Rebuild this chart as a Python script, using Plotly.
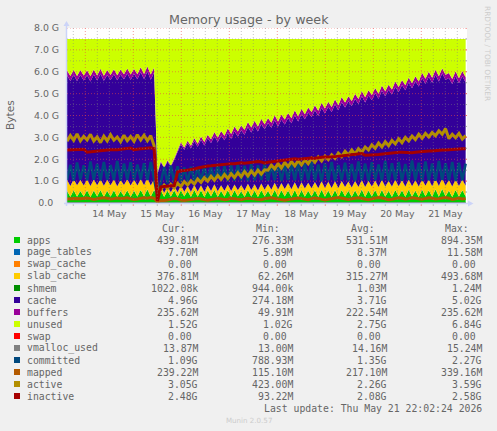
import pandas as pd
import plotly.graph_objects as go

# --- data (GiB) ---
apps = [.55,.28,.58,.29,.54,.30,.57,.27,.56,.30,
        .59,.28,.55,.29,.57,.27,.54,.31,.58,.28,
        .56,.29,.59,.30,.62,.29,.60,.30,.58,.28,
        .56,.29,.57,.28,.58,.30,.55,.28,.59,.29,
        .57,.27,.56,.30,.60,.28,.55,.29,.58,.28,
        .57,.30,.54,.28,.59,.29,.56,.27,.58,.30,
        .55,.29,.60,.28,.57,.30,.56,.28,.59,.27,
        .58,.29,.55,.30,.57,.28,.60,.29,.56,.28,
        .58,.27,.59,.30,.55,.28,.57,.29,.61,.28,
        .56,.30,.58,.27,.60,.29,.55,.28,.59,.30,
        .57,.28,.60,.29,.56,.27,.61,.30,.58,.28,
        .62,.29,.64,.30,.56,.27,.59,.29,.58,.30]
slab_cache = [.50,.49,.50,.51,.50,.49,.50,.50,.51,.50,
              .49,.50,.50,.51,.50,.49,.50,.50,.50,.51,
              .50,.50,.49,.50,.51,.50,.49,.10,.18,.18,
              .19,.19,.20,.20,.21,.21,.22,.22,.22,.23,
              .23,.24,.24,.24,.25,.25,.25,.26,.26,.26,
              .27,.27,.27,.28,.28,.29,.29,.29,.30,.30,
              .31,.31,.32,.32,.33,.33,.34,.34,.35,.35,
              .36,.36,.37,.37,.38,.38,.39,.39,.40,.40,
              .40,.41,.41,.42,.42,.42,.43,.43,.43,.44,
              .44,.44,.44,.45,.45,.45,.45,.46,.46,.46,
              .46,.46,.47,.47,.47,.47,.47,.48,.48,.48,
              .48,.48,.48,.48,.48,.48,.48,.48,.48,.48]
cache = [4.78,4.80,4.77,4.77,4.80,4.80,4.76,4.78,4.79,4.79,
         4.82,4.80,4.79,4.81,4.81,4.84,4.82,4.84,4.83,4.84,
         4.84,4.86,4.89,4.86,4.87,4.84,4.87,.89,1.09,1.12,
         1.14,1.17,1.19,1.87,1.89,1.92,1.96,1.99,2.02,2.04,
         2.08,2.11,2.15,2.19,2.21,2.25,2.28,2.31,2.36,2.39,
         2.43,2.46,2.51,2.55,2.59,2.63,2.67,2.70,2.73,2.76,
         2.79,2.83,2.85,2.89,2.91,2.95,2.98,3.02,3.06,3.10,
         3.13,3.17,3.21,3.25,3.28,3.32,3.35,3.40,3.43,3.47,
         3.52,3.55,3.60,3.63,3.67,3.72,3.75,3.79,3.84,3.87,
         3.91,3.96,4.00,4.04,4.08,4.13,4.17,4.21,4.26,4.30,
         4.35,4.40,4.43,4.48,4.53,4.58,4.63,4.66,4.70,4.73,
         4.75,4.78,4.80,4.84,4.66,4.68,4.71,4.69,4.73,4.73]
buffers = [.23,.23,.23,.23,.23,.23,.23,.23,.23,.23,
           .23,.23,.23,.23,.23,.23,.23,.23,.23,.23,
           .23,.23,.23,.23,.23,.23,.23,.10,.05,.05,
           .06,.06,.07,.08,.09,.10,.11,.12,.13,.14,
           .15,.16,.16,.17,.18,.19,.20,.21,.21,.22,
           .22,.23,.23,.23,.23,.23,.23,.23,.23,.23,
           .23,.23,.23,.23,.23,.23,.23,.23,.23,.23,
           .23,.23,.23,.23,.23,.23,.23,.23,.23,.23,
           .23,.23,.23,.23,.23,.23,.23,.23,.23,.23,
           .23,.23,.23,.23,.23,.23,.23,.23,.23,.23,
           .23,.23,.23,.23,.23,.23,.23,.23,.23,.23,
           .23,.23,.23,.23,.23,.23,.23,.23,.23,.23]
unused = [1.43,1.69,1.41,1.69,1.42,1.67,1.43,1.71,1.40,1.67,
          1.36,1.68,1.42,1.65,1.38,1.66,1.40,1.61,1.35,1.63,
          1.36,1.61,1.29,1.60,1.26,1.63,1.30,6.10,5.59,5.86,
          5.54,5.78,5.46,5.06,4.72,4.96,4.65,4.88,4.53,4.79,
          4.46,4.71,4.38,4.59,4.25,4.52,4.21,4.42,4.08,4.34,
          4.00,4.23,3.94,4.15,3.80,4.05,3.74,4.00,3.65,3.90,
          3.61,3.83,3.49,3.77,3.45,3.68,3.38,3.62,3.26,3.54,
          3.19,3.44,3.13,3.34,3.03,3.28,2.92,3.18,2.87,3.11,
          2.76,3.03,2.66,2.91,2.62,2.84,2.51,2.75,2.38,2.67,
          2.35,2.56,2.24,2.50,2.13,2.39,2.09,2.31,1.95,2.20,
          1.88,2.12,1.76,2.02,1.70,1.94,1.55,1.82,1.50,1.77,
          1.41,1.71,1.34,1.64,1.56,1.83,1.48,1.80,1.47,1.75]
committed = [1.05,1.75,1.02,1.85,1.08,1.72,1.04,1.90,1.06,1.78,
             1.03,1.88,1.07,1.74,1.05,1.92,1.02,1.80,1.06,1.86,
             1.04,1.76,1.08,1.82,1.05,1.88,1.10,.30,.95,1.65,
             .90,1.72,.92,1.68,.95,1.62,.98,1.66,1.00,1.64,
             .98,1.70,1.02,1.66,1.00,1.74,1.03,1.68,1.00,1.72,
             1.02,1.76,1.04,1.70,1.00,1.78,1.03,1.72,1.05,1.80,
             1.02,1.74,1.04,1.82,1.00,1.76,1.05,1.80,1.03,1.84,
             1.02,1.78,1.05,1.86,1.03,1.76,1.00,1.82,1.04,1.88,
             1.02,1.74,1.05,1.84,1.03,1.78,1.00,1.90,1.04,1.80,
             1.02,1.86,1.05,1.76,1.03,1.92,1.00,1.82,1.04,1.88,
             1.02,1.78,1.05,1.94,1.03,1.84,1.00,1.90,1.04,1.80,
             1.02,1.92,1.05,1.82,1.03,1.88,1.00,1.84,1.04,1.80]
mapped = [.18,.20,.22,.21,.19,.21,.23,.20,.16,.19,
          .21,.24,.22,.18,.20,.23,.20,.22,.24,.19,
          .16,.18,.21,.24,.22,.25,.22,.06,.12,.11,
          .14,.18,.20,.19,.13,.11,.14,.17,.19,.20,
          .18,.15,.13,.16,.19,.21,.18,.15,.17,.21,
          .20,.18,.15,.19,.22,.20,.18,.17,.15,.19,
          .22,.24,.21,.18,.14,.13,.16,.18,.22,.23,
          .20,.17,.15,.20,.23,.21,.18,.14,.17,.19,
          .22,.25,.22,.18,.16,.19,.23,.24,.21,.17,
          .15,.19,.22,.25,.23,.18,.15,.17,.21,.24,
          .22,.18,.20,.24,.22,.19,.17,.21,.24,.22,
          .18,.20,.23,.25,.22,.16,.19,.23,.18,.20]
active = [2.82,3.08,2.86,3.16,2.84,3.05,2.88,3.14,2.83,3.02,
          2.76,3.06,2.84,3.12,2.87,3.02,2.80,3.10,2.85,3.04,
          2.82,3.12,2.88,3.10,2.85,3.08,2.62,.48,.62,.82,
          .66,.86,.70,.90,.76,.98,.82,1.02,.86,1.10,
          .94,1.16,1.00,1.22,1.04,1.26,1.08,1.30,1.12,1.34,
          1.16,1.38,1.20,1.44,1.24,1.46,1.28,1.50,1.32,1.52,
          1.50,1.74,1.56,1.80,1.60,1.86,1.66,1.90,1.70,1.94,
          1.74,1.98,1.80,2.04,1.86,2.10,1.92,2.14,1.98,2.20,
          2.04,2.28,2.12,2.36,2.18,2.42,2.24,2.48,2.32,2.56,
          2.42,2.66,2.50,2.74,2.56,2.80,2.62,2.86,2.70,2.94,
          2.76,3.00,2.84,3.06,2.90,3.14,2.96,3.18,3.02,3.22,
          3.08,3.30,3.14,3.40,2.94,3.14,2.98,3.18,2.92,3.08]
inactive = [2.42,2.43,2.44,2.45,2.46,2.46,2.32,2.34,2.37,2.38,
            2.40,2.41,2.42,2.43,2.42,2.44,2.46,2.48,2.50,2.51,
            2.44,2.47,2.48,2.49,2.50,2.52,2.48,.10,.74,.75,
            .77,.79,.80,1.42,1.47,1.48,1.50,1.52,1.55,1.60,
            1.64,1.68,1.69,1.70,1.72,1.72,1.73,1.76,1.77,1.80,
            1.80,1.82,1.84,1.82,1.84,1.86,1.90,1.90,1.88,1.82,
            1.86,1.88,1.90,1.92,1.94,1.96,1.98,2.00,2.02,2.00,
            2.02,2.04,2.06,2.06,2.05,2.08,2.09,2.10,2.09,2.11,
            2.12,2.14,2.16,2.18,2.20,2.22,2.24,2.24,2.26,2.18,
            2.18,2.19,2.21,2.22,2.24,2.25,2.26,2.28,2.30,2.32,
            2.32,2.31,2.29,2.30,2.32,2.34,2.35,2.36,2.38,2.38,
            2.40,2.40,2.42,2.42,2.44,2.44,2.46,2.47,2.48,2.48]
# thin series, sampled sparsely
page_tables = [.0079,.0084,.0076,.0082,.0086,.0090,.0081,.0077]
swap_cache = [0, 0, 0, 0, 0, 0, 0, 0]
shmem = [.0010, .0011, .0009, .0010, .0011, .0012, .0010, .0010]
swap = [0, 0, 0, 0, 0, 0, 0, 0]
vmalloc_used = [.0140, .0142, .0136, .0141, .0145, .0148, .0142, .0139]

names = ["apps","page_tables","swap_cache","slab_cache","shmem","cache","buffers","unused",
         "swap","vmalloc_used","committed","mapped","active","inactive"]
colors = ["#00CC00","#0066B3","#FF8000","#FFCC00","#008F00","#330099","#990099","#CCFF00",
          "#FF0000","#808080","#00487D","#B35A00","#B38F00","#A60000"]
cur = ["439.81M","7.70M","0.00\u00a0","376.81M","1022.08k","4.96G","235.62M","1.52G",
       "0.00\u00a0","13.87M","1.09G","239.22M","3.05G","2.48G"]
mins = ["276.33M","5.89M","0.00\u00a0","62.26M","944.00k","274.18M","49.91M","1.02G",
        "0.00\u00a0","13.00M","788.93M","115.10M","423.00M","93.22M"]
avgs = ["531.51M","8.37M","0.00\u00a0","315.27M","1.03M","3.71G","222.54M","2.75G",
        "0.00\u00a0","14.16M","1.35G","217.10M","2.26G","2.08G"]
maxs = ["894.35M","11.58M","0.00\u00a0","493.68M","1.24M","5.02G","235.62M","6.84G",
        "0.00\u00a0","15.24M","2.27G","339.16M","3.59G","2.58G"]
ytick_vals = [0, 1, 2, 3, 4, 5, 6, 7, 8]
ytick_text = ["0.0\u00a0\u00a0", "1.0 G", "2.0 G", "3.0 G", "4.0 G", "5.0 G", "6.0 G", "7.0 G", "8.0 G"]
day_labels = ["14 May", "15 May", "16 May", "17 May", "18 May", "19 May", "20 May", "21 May"]

# --- layout constants (pixels in the 497x431 picture) ---
W, H = 497, 431
L, R, T, B = 67, 467, 28, 203
TEXT = "#666666"
MONO = "DejaVu Sans Mono"
SANS = "DejaVu Sans"


def px(x):
    return (x - L) / (R - L)


def py(y):
    return (B - y) / (B - T)


start = pd.Timestamp("2026-05-13 14:51")
end = start + pd.Timedelta(minutes=12000)
times = pd.date_range(start, periods=len(apps), freq="6030s")
sparse = times[::17]

fig = go.Figure()


def area(name, y, color, x=times):
    fig.add_trace(go.Scatter(x=list(x), y=y, name=name, mode="lines", stackgroup="mem",
                             stackgaps="interpolate", line=dict(width=0, color=color),
                             fillcolor=color, showlegend=False, hoverinfo="skip"))


def line(name, y, color, x=times, width=3):
    fig.add_trace(go.Scatter(x=list(x), y=y, name=name, mode="lines",
                             line=dict(width=width, color=color),
                             showlegend=False, hoverinfo="skip"))


c = dict(zip(names, colors))
area("apps", apps, c["apps"])
area("page_tables", page_tables, c["page_tables"], sparse)
area("swap_cache", swap_cache, c["swap_cache"], sparse)
area("slab_cache", slab_cache, c["slab_cache"])
area("shmem", shmem, c["shmem"], sparse)
area("cache", cache, c["cache"])
area("buffers", buffers, c["buffers"])
area("unused", unused, c["unused"])
area("swap", swap, c["swap"], sparse)
line("vmalloc_used", vmalloc_used, c["vmalloc_used"], sparse, 1)
line("committed", committed, c["committed"], width=2.6)
line("mapped", mapped, c["mapped"])
line("active", active, c["active"])
line("inactive", inactive, c["inactive"])

shapes = []
GRID = "rgba(128,128,128,0.45)"
MGRID = "rgba(235,70,70,0.55)"
# vertical grid: every 6 h, stronger at midnight
for t in pd.date_range("2026-05-13 18:00", end, freq="6h"):
    major = t.hour == 0
    col = MGRID if major else GRID
    shapes.append(dict(type="line", layer="above", xref="x", yref="paper", x0=t, x1=t, y0=py(B), y1=py(T),
                       line=dict(color=col, width=1, dash="1px,2px")))
    shapes.append(dict(type="line", layer="above", xref="x", yref="paper", x0=t, x1=t, y0=py(B + 1), y1=py(B + 3),
                       line=dict(color=col, width=1)))
# horizontal grid: every 0.5 G, stronger at whole G
for k in range(1, 17):
    v = k / 2
    major = k % 2 == 0
    col = MGRID if major else GRID
    shapes.append(dict(type="line", layer="above", xref="paper", yref="y", x0=0, x1=1, y0=v, y1=v,
                       line=dict(color=col, width=1, dash="1px,2px")))
    shapes.append(dict(type="line", layer="above", xref="paper", yref="y", x0=px(R - 2), x1=px(R), y0=v, y1=v,
                       line=dict(color=col, width=1)))
# axis lines and arrows
AX = "#CCD4F8"
shapes.append(dict(type="line", xref="paper", yref="paper", x0=px(66.5), x1=px(66.5), y0=py(206), y1=py(24),
                   line=dict(color=AX, width=1.5)))
shapes.append(dict(type="line", xref="paper", yref="paper", x0=px(64), x1=px(469), y0=py(203.5), y1=py(203.5),
                   line=dict(color=AX, width=1.5)))
shapes.append(dict(type="path", xref="paper", yref="paper", line=dict(width=0), fillcolor=AX,
                   path=f"M {px(63.5)} {py(26)} L {px(69.5)} {py(26)} L {px(66.5)} {py(21)} Z"))
shapes.append(dict(type="path", xref="paper", yref="paper", line=dict(width=0), fillcolor=AX,
                   path=f"M {px(468)} {py(200.5)} L {px(468)} {py(206.5)} L {px(473.5)} {py(203.5)} Z"))

annotations = []


def text(x, y, s, size=9.8, family=MONO, color=TEXT, anchor="left", angle=0):
    annotations.append(dict(x=px(x), y=py(y), xref="paper", yref="paper", text=s, showarrow=False,
                            xanchor=anchor, yanchor="middle", borderpad=0, textangle=angle,
                            font=dict(family=family, size=size, color=color)))


# title and side labels
text(248.5, 20, "Memory usage - by week", size=12.7, family=SANS, anchor="center", color="#666666")
text(10, 115, "Bytes", size=10.6, family=SANS, anchor="center", angle=-90, color="#666666")
text(488, 53, "RRDTOOL / TOBI OETIKER", size=7.4, family=SANS, anchor="center", angle=90, color="#CCCCCC")
text(248.5, 420, "Munin 2.0.57", size=7.1, family=SANS, anchor="center", color="#CCCCCC")

# legend table
COLS = [(199, cur, "Cur:", 186.5), (294, mins, "Min:", 281), (388, avgs, "Avg:", 375.5), (482.7, maxs, "Max:", 470)]
for right, vals, head, hx in COLS:
    text(hx, 228, head, anchor="right")
for i, n in enumerate(names):
    y = 240 + 12 * i
    shapes.append(dict(type="rect", xref="paper", yref="paper", x0=px(14), x1=px(20), y0=py(y + 3), y1=py(y - 3),
                       line=dict(width=0), fillcolor=colors[i]))
    text(26.3, y, n)
    for right, vals, head, hx in COLS:
        text(right, y, vals[i], anchor="right")
text(482.7, 408, "Last update: Thu May 21 22:02:24 2026", anchor="right")

noon = [pd.Timestamp(f"2026-05-{d} 12:00") for d in range(14, 22)]
fig.update_layout(
    width=W, height=H, autosize=False,
    margin=dict(l=L, r=W - R, t=T, b=H - B, pad=0),
    paper_bgcolor="#F0F0F0", plot_bgcolor="#FFFFFF",
    shapes=shapes, annotations=annotations, showlegend=False,
    font=dict(family=SANS, size=9.4, color=TEXT),
    xaxis=dict(type="date", range=[start, end], tickmode="array", tickvals=noon, ticktext=day_labels,
               showgrid=False, zeroline=False, showline=False, ticks="outside", ticklen=2,
               tickcolor="rgba(0,0,0,0)", tickangle=0, tickfont=dict(family=SANS, size=9.4, color=TEXT)),
    yaxis=dict(range=[0, 8], tickmode="array", tickvals=ytick_vals, ticktext=ytick_text,
               showgrid=False, zeroline=False, showline=False, ticks="outside", ticklen=5,
               tickcolor="rgba(0,0,0,0)", tickfont=dict(family=SANS, size=9.4, color=TEXT)),
)

fig.write_html("out.html", post_script="document.body.style.margin='0';", config=dict(displayModeBar=False))
